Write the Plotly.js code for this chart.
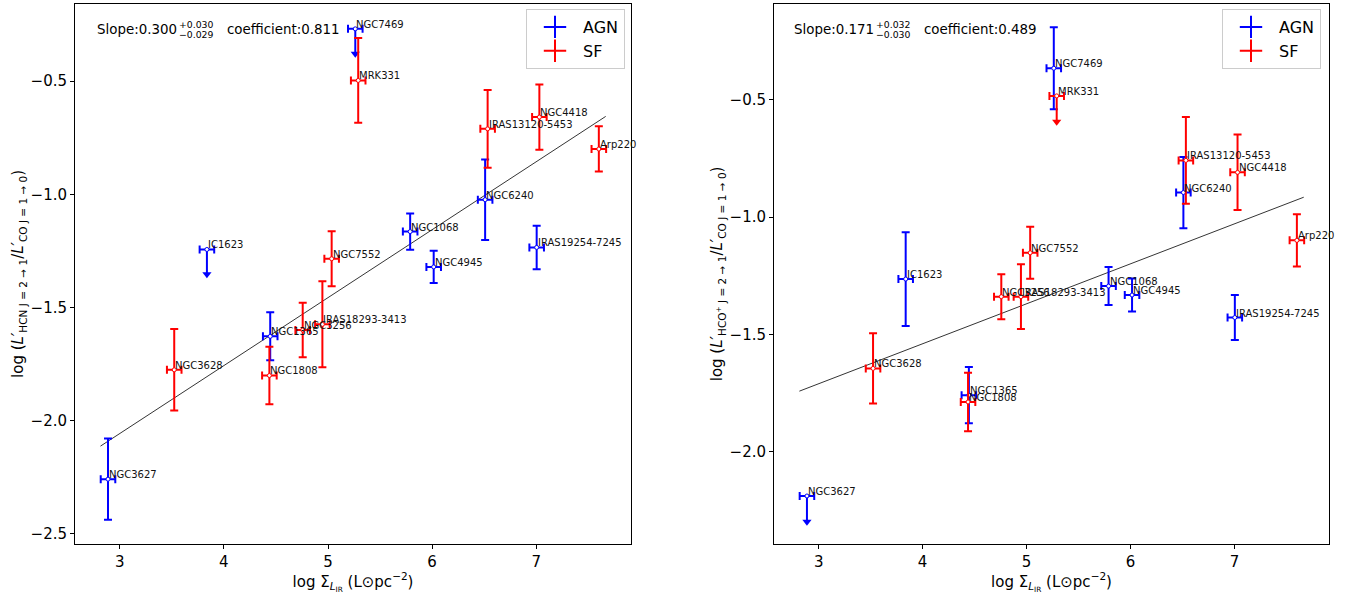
<!DOCTYPE html>
<html>
<head>
<meta charset="utf-8">
<script src="https://cdn.plot.ly/plotly-3.0.1.min.js"></script>
<style>html,body{margin:0;padding:0;background:#fff;}#chart{width:1359px;height:594px;}</style>
</head>
<body>
<div id="chart"></div>
<script>
// ---------------- data ----------------
const galaxies = ['NGC7469','IC1623','NGC1365','NGC1068','NGC4945','NGC6240','IRAS19254-7245','NGC3627',
                  'MRK331','IRAS13120-5453','NGC4418','Arp220','NGC7552','IRAS18293-3413','NGC3256','NGC3628','NGC1808'];
const galaxyType = ['AGN','AGN','AGN','AGN','AGN','AGN','AGN','AGN',
                    'SF','SF','SF','SF','SF','SF','SF','SF','SF'];
const logSigmaIR = [5.262, 3.837, 4.445, 5.789, 6.015, 6.509, 7.004, 2.887,
                    5.290, 6.533, 7.030, 7.601, 5.035, 4.946, 4.757, 3.523, 4.437];
const logSigmaErr = [0.07, 0.07, 0.07, 0.07, 0.07, 0.07, 0.07, 0.07,
                     0.07, 0.07, 0.07, 0.07, 0.07, 0.07, 0.07, 0.07, 0.07];
// HCN(2-1)/CO(1-0)
const hcnRatio = [-0.269, -1.244, -1.628, -1.165, -1.321, -1.024, -1.235, -2.259,
                  -0.497, -0.711, -0.659, -0.800, -1.285, -1.575, -1.600, -1.776, -1.801];
const hcnErr = [0, 0, 0.106, 0.080, 0.071, 0.178, 0.096, 0.180,
                0.187, 0.172, 0.144, 0.100, 0.122, 0.190, 0.120, 0.180, 0.127];
const hcnUpperLimit = [true, true, false, false, false, false, false, false,
                       false, false, false, false, false, false, false, false, false];
// HCO+(2-1)/CO(1-0)
const hcoRatio = [-0.365, -1.264, -1.759, -1.294, -1.332, -0.895, -1.428, -2.189,
                  -0.483, -0.758, -0.809, -1.099, -1.152, -1.339, -1.339, -1.645, -1.788];
const hcoErr = [0.175, 0.200, 0.120, 0.081, 0.070, 0.152, 0.096, 0,
                0, 0.185, 0.161, 0.111, 0.111, 0.138, 0.096, 0.150, 0.125];
const hcoUpperLimit = [false, false, false, false, false, false, false, true,
                       true, false, false, false, false, false, false, false, false];
const upperLimitLength = 0.11;
// fitted relations (end points of drawn lines)
const hcnFitX = [2.815, 7.667];
const hcnFitY = [-2.113, -0.656];
const hcoFitX = [2.814, 7.667];
const hcoFitY = [-1.742, -0.915];
const hcnFitText = {slope: '0.300', plus: '+0.030', minus: '−0.029', coef: '0.811'};
const hcoFitText = {slope: '0.171', plus: '+0.032', minus: '−0.030', coef: '0.489'};
const xTicks = [3, 4, 5, 6, 7];

// ---------------- build ----------------
const COLORS = {AGN: '#0000ff', SF: '#ff0000'};
const FONT = 'DejaVu Sans, sans-serif';
const traces = [];
const annotations = [];

function panel(ratio, err, upper, fitX, fitY, xa, ya, legendName) {
  traces.push({x: fitX, y: fitY, xaxis: xa, yaxis: ya, mode: 'lines',
    line: {color: '#000', width: 0.8}, showlegend: false, hoverinfo: 'skip'});
  ['AGN', 'SF'].forEach(t => {
    const idx = galaxies.map((g, i) => i).filter(i => galaxyType[i] === t);
    const normal = idx.filter(i => !upper[i]);
    const ul = idx.filter(i => upper[i]);
    traces.push({
      x: normal.map(i => logSigmaIR[i]), y: normal.map(i => ratio[i]),
      xaxis: xa, yaxis: ya, mode: 'markers', showlegend: false,
      marker: {symbol: 'circle', size: 4, color: '#fff', line: {color: COLORS[t], width: 1}},
      error_x: {type: 'data', array: normal.map(i => logSigmaErr[i]), color: COLORS[t], thickness: 2, width: 4},
      error_y: {type: 'data', array: normal.map(i => err[i]), color: COLORS[t], thickness: 2, width: 4}
    });
    if (ul.length) {
      traces.push({
        x: ul.map(i => logSigmaIR[i]), y: ul.map(i => ratio[i]),
        xaxis: xa, yaxis: ya, mode: 'markers', showlegend: false,
        marker: {symbol: 'circle', size: 4, color: '#fff', line: {color: COLORS[t], width: 1}},
        error_x: {type: 'data', array: ul.map(i => logSigmaErr[i]), color: COLORS[t], thickness: 2, width: 4},
        error_y: {type: 'data', symmetric: false, array: ul.map(i => 0), arrayminus: ul.map(i => upperLimitLength),
                  color: COLORS[t], thickness: 2, width: 0}
      });
      traces.push({
        x: ul.map(i => logSigmaIR[i]), y: ul.map(i => ratio[i] - upperLimitLength),
        xaxis: xa, yaxis: ya, mode: 'markers', showlegend: false, hoverinfo: 'skip',
        marker: {symbol: 'triangle-down', size: 8, color: COLORS[t], line: {width: 0}}
      });
    }
    // legend entry
    traces.push({x: [null], y: [null], xaxis: xa, yaxis: ya, mode: 'markers', name: t,
      legend: legendName, showlegend: true,
      marker: {symbol: 'cross-thin-open', size: 16, color: COLORS[t], line: {color: COLORS[t], width: 2}}});
  });
  galaxies.forEach((g, i) => {
    annotations.push({x: logSigmaIR[i], y: ratio[i], xref: xa, yref: ya, text: g, showarrow: false,
      xanchor: 'left', yanchor: 'bottom', xshift: -1, yshift: -3,
      font: {family: FONT, size: 10, color: '#111'}});
  });
}

panel(hcnRatio, hcnErr, hcnUpperLimit, hcnFitX, hcnFitY, 'x', 'y', 'legend');
panel(hcoRatio, hcoErr, hcoUpperLimit, hcoFitX, hcoFitY, 'x2', 'y2', 'legend2');

function fitLabel(ft, xMainRight, xSup, xCoef) {
  const yc = 1 - 29 / 594;
  annotations.push({xref: 'paper', yref: 'paper', x: xMainRight / 1359, y: yc, xanchor: 'right', yanchor: 'middle',
    text: 'Slope:' + ft.slope, showarrow: false, font: {family: FONT, size: 13.4, color: '#000'}});
  annotations.push({xref: 'paper', yref: 'paper', x: xSup / 1359, y: 1 - 24.5 / 594, xanchor: 'left', yanchor: 'middle',
    text: ft.plus, showarrow: false, font: {family: FONT, size: 9.3, color: '#000'}});
  annotations.push({xref: 'paper', yref: 'paper', x: xSup / 1359, y: 1 - 34.5 / 594, xanchor: 'left', yanchor: 'middle',
    text: ft.minus, showarrow: false, font: {family: FONT, size: 9.3, color: '#000'}});
  annotations.push({xref: 'paper', yref: 'paper', x: xCoef / 1359, y: yc, xanchor: 'left', yanchor: 'middle',
    text: 'coefficient:' + ft.coef, showarrow: false, font: {family: FONT, size: 13.4, color: '#000'}});
}
fitLabel(hcnFitText, 179, 177, 225);
fitLabel(hcoFitText, 876, 874, 922);

const axisCommon = {
  showline: true, mirror: true, linecolor: '#000', linewidth: 1,
  ticks: 'outside', ticklen: 4, tickwidth: 1, tickcolor: '#000',
  showgrid: false, zeroline: false,
  tickfont: {family: FONT, size: 15, color: '#000'}
};
const xTitle = 'log Σ<sub><i>L</i><sub>IR</sub></sub> (L⊙pc<sup>−2</sup>)';
const yDomain = [(594 - 544.3) / 594, (594 - 3.5) / 594];

const legendCommon = {yanchor: 'top', xanchor: 'right', itemwidth: 46,
  bordercolor: '#cccccc', borderwidth: 1, bgcolor: '#fff', font: {family: FONT, size: 16, color: '#000'}};

const layout = {
  width: 1359, height: 594,
  margin: {l: 0, r: 0, t: 0, b: 0},
  paper_bgcolor: '#fff', plot_bgcolor: '#fff',
  font: {family: FONT},
  xaxis: Object.assign({}, axisCommon, {domain: [75 / 1359, 631 / 1359], range: [2.57, 7.91], anchor: 'y',
    tickvals: xTicks, title: {text: xTitle, font: {family: FONT, size: 15, color: '#000'}}}),
  yaxis: Object.assign({}, axisCommon, {domain: yDomain, range: [-2.547, -0.157], anchor: 'x',
    dtick: 0.5, tick0: 0, tickformat: '.1f',
    title: {text: 'log (<i>L′</i><sub>HCN J = 2 → 1</sub>/<i>L′</i><sub>CO J = 1 → 0</sub>)', font: {family: FONT, size: 15, color: '#000'}}}),
  xaxis2: Object.assign({}, axisCommon, {domain: [774 / 1359, 1329 / 1359], range: [2.57, 7.91], anchor: 'y2',
    tickvals: xTicks, title: {text: xTitle, font: {family: FONT, size: 15, color: '#000'}}}),
  yaxis2: Object.assign({}, axisCommon, {domain: yDomain, range: [-2.395, -0.089], anchor: 'x2',
    dtick: 0.5, tick0: 0, tickformat: '.1f',
    title: {text: 'log (<i>L′</i><sub>HCO<sup>+</sup> J = 2 → 1</sub>/<i>L′</i><sub>CO J = 1 → 0</sub>)', font: {family: FONT, size: 15, color: '#000'}}}),
  legend: Object.assign({}, legendCommon, {x: 625 / 1359, y: 1 - 9 / 594}),
  legend2: Object.assign({}, legendCommon, {x: 1321 / 1359, y: 1 - 9 / 594}),
  annotations: annotations,
  showlegend: true
};

Plotly.newPlot('chart', traces, layout, {displayModeBar: false, staticPlot: true});
</script>
</body>
</html>
